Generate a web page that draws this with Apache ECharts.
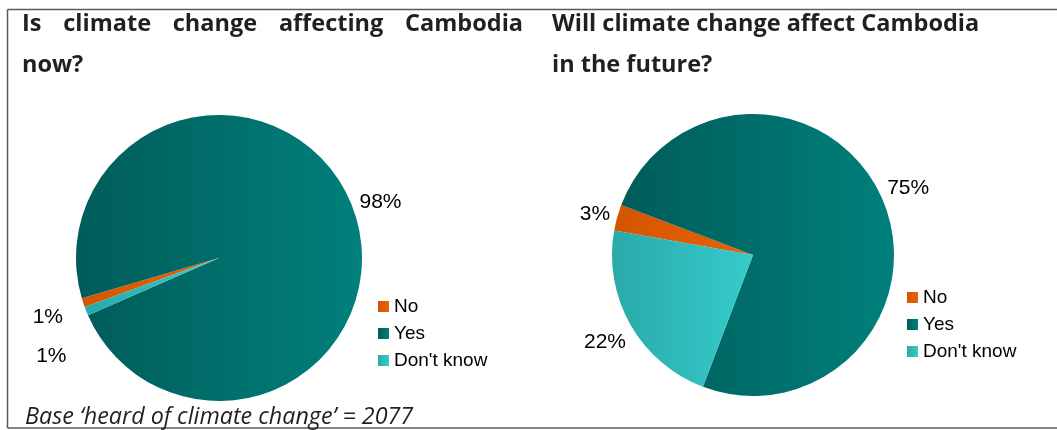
<!DOCTYPE html>
<html>
<head>
<meta charset="utf-8">
<script src="https://cdn.jsdelivr.net/npm/echarts@6/dist/echarts.min.js"></script>
<style>
  html, body { margin: 0; padding: 0; background: #fff; }
  #chart { width: 1057px; height: 430px; }
</style>
</head>
<body>
<div id="chart"></div>
<script>
// Survey answers, in percent of respondents
const categories = ['No', 'Yes', "Don't know"];
const nowValues = [1, 98, 1];
const futureValues = [3, 75, 22];

const nowTitle = ['Is climate change affecting Cambodia', 'now?'];
const futureTitle = ['Will climate change affect Cambodia', 'in the future?'];
const baseNote = 'Base \u2018heard of climate change\u2019 = 2077';

// Slice shading: darker on the left, lighter on the right
const sliceColors = {
  'No': ['#d45500', '#e8620a'],
  'Yes': ['#005c59', '#00807c'],
  "Don't know": ['#2aa9a9', '#36cbcb']
};

const TITLE_FONT = '"Open Sans", "DejaVu Sans", sans-serif';
const LABEL_FONT = '"Liberation Sans", Arial, sans-serif';
const TITLE_SIZE = 23.5;
const LABEL_SIZE = 21;

// Geometry of the two pies (pixels, degrees)
const pies = [
  { values: nowValues, center: [219, 258], radius: 143, startAngle: 200 },
  { values: futureValues, center: [753, 255], radius: 141, startAngle: 170 }
];

function gradientFor(name) {
  const c = sliceColors[name];
  return new echarts.graphic.LinearGradient(0, 0, 1, 0, [
    { offset: 0, color: c[0] },
    { offset: 1, color: c[1] }
  ]);
}

function pieData(values) {
  return categories.map((name, i) => ({
    name: name,
    value: values[i],
    itemStyle: { color: gradientFor(name) }
  }));
}

// Middle angle of a slice, clockwise from the start angle
function midAngle(pie, idx) {
  const total = pie.values.reduce((a, b) => a + b, 0);
  let before = 0;
  for (let i = 0; i < idx; i++) before += pie.values[i];
  return pie.startAngle - (before + pie.values[idx] / 2) / total * 360;
}

// Put each percentage just beyond the rim, centred on the slice's middle direction
function placeLabel(params) {
  const pie = pies[params.seriesIndex];
  const a = midAngle(pie, params.dataIndex) * Math.PI / 180;
  const cos = Math.cos(a), sin = Math.sin(a);
  const w = params.labelRect.width;
  const h = LABEL_SIZE * 1.15;
  const reach = Math.abs(cos) * w / 2 + Math.abs(sin) * h / 2;
  // the two thin slices on the first pie share a spot: push them out and stack them
  const crowded = params.seriesIndex === 0 && params.dataIndex !== 1;
  const d = pie.radius + 5 + reach + (crowded ? 14 : 0);
  const out = {
    x: pie.center[0] + cos * d,
    y: pie.center[1] - sin * d + 3,
    align: 'center',
    verticalAlign: 'middle'
  };
  if (crowded) out.moveOverlap = 'shiftY';
  return out;
}

// Measure words so a heading line can be spread across a fixed width
const measureCtx = document.createElement('canvas').getContext('2d');
function textWidth(str) {
  measureCtx.font = 'bold ' + TITLE_SIZE + 'px ' + TITLE_FONT;
  return measureCtx.measureText(str).width;
}

function titleText(str, x, y) {
  return {
    type: 'text', x: x, y: y,
    style: {
      text: str, fill: '#231f20',
      fontSize: TITLE_SIZE, fontWeight: 'bold', fontFamily: TITLE_FONT,
      verticalAlign: 'middle', align: 'left'
    }
  };
}

function justifiedLine(str, left, right, y) {
  const words = str.split(' ');
  const widths = words.map(textWidth);
  const total = widths.reduce((a, b) => a + b, 0);
  const gap = (right - left - total) / (words.length - 1);
  const out = [];
  let x = left;
  words.forEach((w, i) => {
    out.push(titleText(w, x, y));
    x += widths[i] + gap;
  });
  return out;
}

const frameColor = '#5a5a5a';
const graphics = [
  { type: 'line', shape: { x1: 7.5, y1: 9.5, x2: 1057, y2: 9.5 }, style: { stroke: frameColor, lineWidth: 1.5 } },
  { type: 'line', shape: { x1: 7.5, y1: 9.5, x2: 7.5, y2: 428 }, style: { stroke: frameColor, lineWidth: 1.5 } },
  { type: 'line', shape: { x1: 7.5, y1: 428, x2: 1057, y2: 428 }, style: { stroke: frameColor, lineWidth: 1.5 } }
].concat(
  justifiedLine(nowTitle[0], 22, 523, 24),
  [titleText(nowTitle[1], 22, 65),
   titleText(futureTitle[0], 552, 24),
   titleText(futureTitle[1], 552, 65),
   {
     type: 'text', x: 25, y: 417,
     style: {
       text: baseNote, fill: '#231f20',
       fontSize: 23.3, fontStyle: 'italic', fontFamily: TITLE_FONT,
       verticalAlign: 'middle', align: 'left'
     }
   }]
);

function legendAt(left, top) {
  return {
    orient: 'vertical', left: left, top: top,
    data: categories,
    icon: 'rect', itemWidth: 11, itemHeight: 11, itemGap: 8,
    textStyle: { fontSize: 19, fontFamily: LABEL_FONT, color: '#000' },
    selectedMode: false
  };
}

function pieSeries(pie, lineHeight) {
  return {
    type: 'pie',
    center: pie.center,
    radius: pie.radius,
    startAngle: pie.startAngle,
    clockwise: true,
    animation: false,
    avoidLabelOverlap: false,
    data: pieData(pie.values),
    label: {
      show: true, position: 'outside',
      formatter: '{c}%',
      fontSize: LABEL_SIZE, fontFamily: LABEL_FONT, color: '#000',
      lineHeight: lineHeight
    },
    labelLine: { show: false },
    labelLayout: placeLabel,
    emphasis: { disabled: true }
  };
}

const option = {
  backgroundColor: '#fff',
  animation: false,
  legend: [legendAt(373, 292), legendAt(902, 283)],
  series: [pieSeries(pies[0], 39), pieSeries(pies[1], 24)],
  graphic: graphics
};

const chart = echarts.init(document.getElementById('chart'), null, { renderer: 'canvas' });
chart.setOption(option);
</script>
</body>
</html>
